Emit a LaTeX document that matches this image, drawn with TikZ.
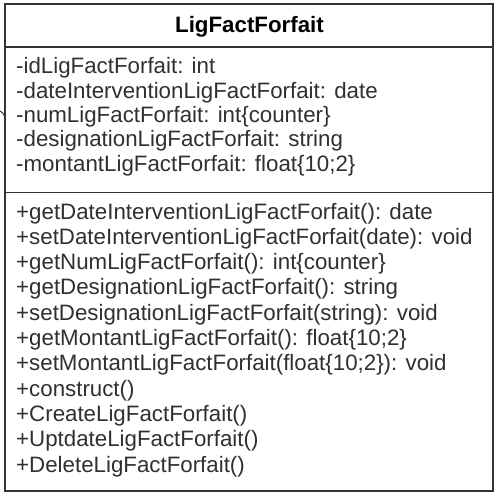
\documentclass[tikz,border=0pt]{standalone}
\usepackage{fontspec}
\setmainfont{Liberation Sans}
\definecolor{ink}{HTML}{303030}
\definecolor{frame}{HTML}{333333}
\begin{document}
\begin{tikzpicture}[x=1pt,y=-1pt,
  member/.style={anchor=base west,inner sep=0pt,text=ink,font=\fontsize{22.3}{24}\selectfont},
  titletext/.style={anchor=base,inner sep=0pt,text=black,font=\fontsize{22.3}{24}\selectfont\bfseries},
  boxline/.style={draw=frame,line width=1.8pt}]
\useasboundingbox (0,0) rectangle (498,495);
\fill[white] (0,0) rectangle (498,495);
% class box
\draw[boxline] (5,4) rectangle (493,491);
\draw[boxline] (5,47) -- (493,47);
\draw[boxline] (5,192.5) -- (493,192.5);
% connector stub at left edge
\draw[frame,line width=1pt] (0,111) .. controls (3,113) .. (5,117);
% title
\node[titletext] (title) at (249.5,33) {LigFactForfait};
% attributes
\foreach \t [count=\i from 0] in {
  {-idLigFactForfait: int},
  {-dateInterventionLigFactForfait: date},
  {-numLigFactForfait: int\{counter\}},
  {-designationLigFactForfait: string},
  {-montantLigFactForfait: float\{10;2\}}}
  \node[member] (attr\i) at (16,{74+24.3*\i}) {\t};
% operations
\foreach \t [count=\i from 0] in {
  {+getDateInterventionLigFactForfait(): date},
  {+setDateInterventionLigFactForfait(date): void},
  {+getNumLigFactForfait(): int\{counter\}},
  {+getDesignationLigFactForfait(): string},
  {+setDesignationLigFactForfait(string): void},
  {+getMontantLigFactForfait(): float\{10;2\}},
  {+setMontantLigFactForfait(float\{10;2\}): void},
  {+construct()},
  {+CreateLigFactForfait()},
  {+UptdateLigFactForfait()},
  {+DeleteLigFactForfait()}}
  \node[member] (op\i) at (16,{219+25.3*\i}) {\t};
\end{tikzpicture}
\end{document}
